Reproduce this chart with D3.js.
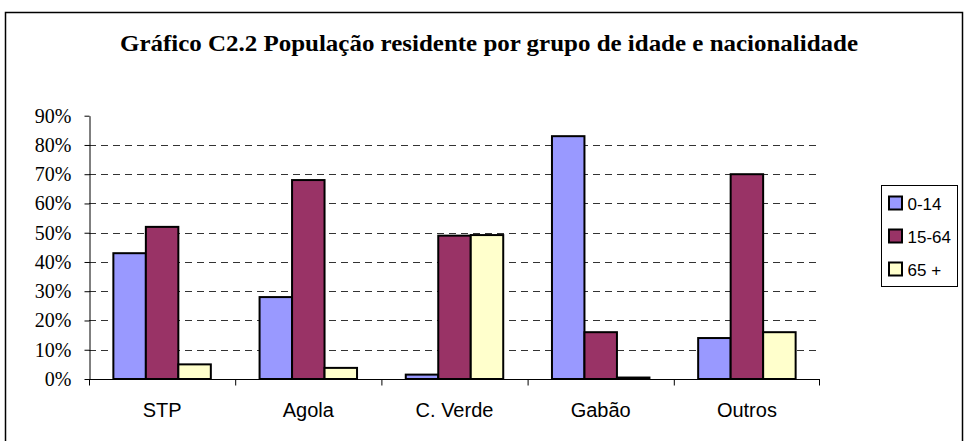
<!DOCTYPE html>
<html>
<head>
<meta charset="utf-8">
<script src="https://d3js.org/d3.v7.min.js"></script>
<style>
body { margin: 0; background: #fff; }
svg { display: block; }
</style>
</head>
<body>
<script>
// data
var categories = ["STP", "Agola", "C. Verde", "Gabão", "Outros"];
var groups = ["0-14", "15-64", "65 +"];
var v0_14 = [43, 28, 1.5, 83, 14];
var v15_64 = [52, 68, 49, 16, 70];
var v65 = [5, 3.8, 49.2, 0.5, 16];
var yTicks = [0, 10, 20, 30, 40, 50, 60, 70, 80, 90];
var colors = ["#9999FF", "#993366", "#FFFFCC"];

var series = [v0_14, v15_64, v65];

var width = 968, height = 441;
var svg = d3.select("body").append("svg")
    .attr("width", width)
    .attr("height", height);

// outer frame
svg.append("rect")
    .attr("x", 5.5).attr("y", 12.5)
    .attr("width", 957).attr("height", 440)
    .attr("fill", "none").attr("stroke", "#000").attr("stroke-width", 1.5);

svg.append("text")
    .attr("x", 489).attr("y", 51)
    .attr("text-anchor", "middle")
    .attr("textLength", 738)
    .attr("lengthAdjust", "spacingAndGlyphs")
    .style("font-family", "'Liberation Serif', 'Times New Roman', serif")
    .style("font-weight", "bold")
    .style("font-size", "24px")
    .text("Gráfico C2.2 População residente por grupo de idade e nacionalidade");

var pLeft = 89, pRight = 820, pTop = 115.7, pBottom = 379;

var x = d3.scaleBand().domain(categories).range([pLeft, pRight]).paddingInner(0).paddingOuter(0);
var y = d3.scaleLinear().domain([0, 90]).range([pBottom, pTop]);

// gridlines
svg.append("g").selectAll("line")
    .data(yTicks.filter(function(d) { return d > 0 && d < 90; }))
    .enter().append("line")
    .attr("x1", pLeft).attr("x2", pRight)
    .attr("y1", function(d) { return Math.round(y(d)) + 0.5; })
    .attr("y2", function(d) { return Math.round(y(d)) + 0.5; })
    .attr("stroke", "#333").attr("stroke-width", 1)
    .attr("stroke-dasharray", "7,5");

// bars: group width = 3 bars + 1.5 bar gap
var bw = x.bandwidth() / 4.5;
var bars = svg.append("g");
categories.forEach(function(c, i) {
    series.forEach(function(s, j) {
        var x0 = x(c) + bw * 0.75 + j * bw;
        bars.append("rect")
            .attr("x", x0)
            .attr("y", y(s[i]))
            .attr("width", bw)
            .attr("height", pBottom - y(s[i]))
            .attr("fill", colors[j])
            .attr("stroke", "#000")
            .attr("stroke-width", 2);
    });
});

// y axis
var yAxis = svg.append("g")
    .attr("transform", "translate(" + (pLeft + 0.5) + ",0)")
    .call(d3.axisLeft(y).tickValues(yTicks).tickSize(5).tickSizeOuter(0)
        .tickFormat(function(d) { return d + "%"; }));
yAxis.select(".domain").attr("stroke", "#000");
yAxis.selectAll(".tick line").attr("stroke", "#000");
yAxis.selectAll("text")
    .attr("x", -18)
    .style("font-family", "'Liberation Serif', 'Times New Roman', serif")
    .style("font-size", "20px")
    .attr("fill", "#000");

// x axis
var xAxis = svg.append("g")
    .attr("transform", "translate(0," + (pBottom + 0.5) + ")");
xAxis.append("line")
    .attr("x1", pLeft).attr("x2", pRight)
    .attr("stroke", "#000");
xAxis.selectAll("line.tk")
    .data(categories.concat(["end"]))
    .enter().append("line")
    .attr("class", "tk")
    .attr("x1", function(d, i) { return i < categories.length ? x(d) + 0.5 : pRight - 0.5; })
    .attr("x2", function(d, i) { return i < categories.length ? x(d) + 0.5 : pRight - 0.5; })
    .attr("y1", 0).attr("y2", 6)
    .attr("stroke", "#000");
xAxis.selectAll("text")
    .data(categories)
    .enter().append("text")
    .attr("x", function(d) { return x(d) + x.bandwidth() / 2; })
    .attr("y", 37.5)
    .attr("text-anchor", "middle")
    .style("font-family", "'Liberation Sans', Arial, sans-serif")
    .style("font-size", "20px")
    .text(function(d) { return d; });

// legend
var lg = svg.append("g").attr("transform", "translate(881.5,185.5)");
lg.append("rect")
    .attr("width", 76).attr("height", 101)
    .attr("fill", "#fff").attr("stroke", "#000").attr("stroke-width", 1);
groups.forEach(function(g, i) {
    lg.append("rect")
        .attr("x", 7.5).attr("y", 11 + i * 33)
        .attr("width", 13).attr("height", 13)
        .attr("fill", colors[i]).attr("stroke", "#000").attr("stroke-width", 2);
    lg.append("text")
        .attr("x", 26).attr("y", 24 + i * 33)
        .style("font-family", "'Liberation Sans', Arial, sans-serif")
        .style("font-size", "17px")
        .text(g);
});
</script>
</body>
</html>
